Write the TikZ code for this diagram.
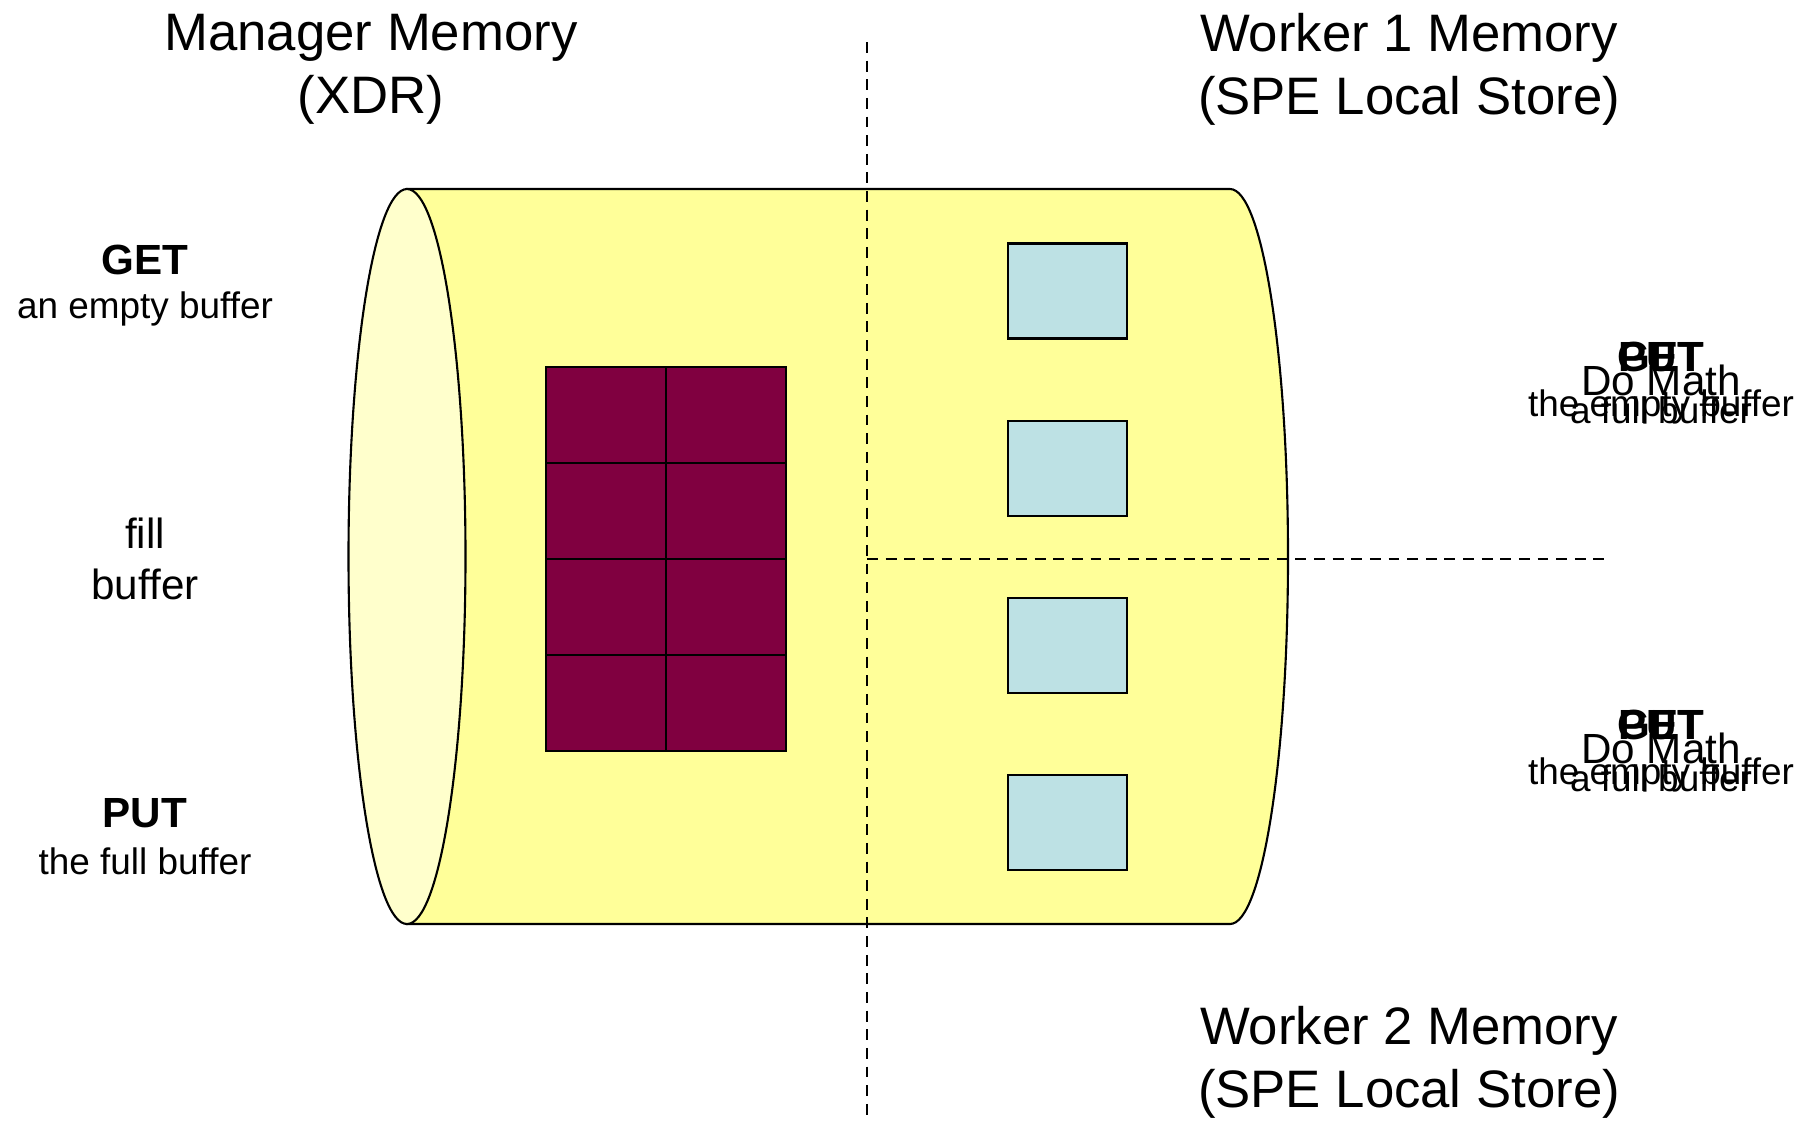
\documentclass[tikz,border=0pt]{standalone}
\usepackage{fontspec}
\setmainfont{Liberation Sans}
\usetikzlibrary{positioning}
\definecolor{memyellow}{HTML}{FFFF99}
\definecolor{memface}{HTML}{FFFFCC}
\definecolor{bufred}{HTML}{800040}
\definecolor{bufblue}{HTML}{BDE1E4}

\tikzset{
  memtitle/.style={align=center,font=\fontsize{15}{18}\selectfont},
  verb/.style={inner sep=0pt,font=\fontsize{12}{14}\selectfont\bfseries},
  what/.style={inner sep=0pt,font=\fontsize{10.5}{12.6}\selectfont},
  plain/.style={inner sep=0pt,font=\fontsize{12}{14}\selectfont},
  cell/.style={draw,line width=0.6pt,fill=bufred,inner sep=0pt,minimum width=1.2cm,minimum height=0.96cm},
  slot/.style={draw,line width=0.6pt,fill=bufblue,inner sep=0pt,minimum width=1.19cm,minimum height=0.95cm},
  divide/.style={line width=0.7pt,dash pattern=on 3.1pt off 2.2pt},
}

\begin{document}
\begin{tikzpicture}[x=0.1mm,y=-0.1mm]
\useasboundingbox (0,0) rectangle (1814,1121);
%CYLINDER
\draw[line width=0.6pt, fill=memyellow] (407,189) -- (1230,189)
  arc[start angle=90, end angle=-90, x radius=5.8mm, y radius=36.75mm] -- (407,924) -- cycle;
\draw[line width=0.6pt, fill=memface] (407,556.5) ellipse[x radius=5.85mm, y radius=36.75mm];
%MANAGER BUFFERS
\foreach \r [count=\i] in {415,511,607,703} {
  \node[cell] (m\i a) at (606,\r) {};
  \node[cell] (m\i b) at (726,\r) {};
}
%WORKER BUFFERS
\node[slot] (w1) at (1067.5,291) {};
\node[slot, below=0.8cm of w1] (w2) {};
\node[slot, below=0.8cm of w2] (w3) {};
\node[slot, below=0.8cm of w3] (w4) {};
% Frontier
\coordinate (vtop) at (867,42);
\coordinate (vbot) at (867,1116);
\coordinate (hleft) at (867,559);
\coordinate (hright) at (1608,559);
\draw[divide] (vtop) -- (vbot);
\draw[divide] (hleft) -- (hright);
%TITLES
\node[memtitle] (mgr) at (371,69) {Manager Memory\\(XDR)};
\node[memtitle] (wk1) at (1409,69) {Worker 1 Memory\\(SPE Local Store)};
\node[memtitle] (wk2) at (1409,1062) {Worker 2 Memory\\(SPE Local Store)};
%MANAGER STEPS
\node[verb] (mget) at (145,260) {GET};
\node[what] (mgetx) at (145,309) {an empty buffer};
\node[plain] (mfill) at (145,533) {fill};
\node[plain] (mfillx) at (145,584) {buffer};
\node[verb] (mput) at (145,813) {PUT};
\node[what] (mputx) at (145,861) {the full buffer};
%WORKER STEPS
\foreach \k/\dy in {1/0,2/368} {
  \node[verb] (get\k) at (1661,357+\dy) {GET};
  \node[verb] (put\k) at (1661,357+\dy) {PUT};
  \node[plain] (math\k) at (1661,380+\dy) {Do Math};
  \node[what] (empty\k) at (1661,407+\dy) {the empty buffer};
  \node[what] (full\k) at (1661,410+\dy) {a full buffer};
}
\end{tikzpicture}
\end{document}
